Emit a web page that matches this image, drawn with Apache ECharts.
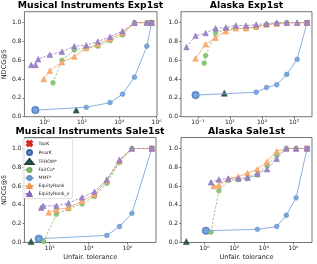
<!DOCTYPE html>
<html><head><meta charset="utf-8">
<script src="https://cdn.jsdelivr.net/npm/echarts/dist/echarts.min.js"></script>
<style>html,body{margin:0;padding:0;background:#fff}#c{width:317px;height:264px}</style>
</head><body><div id="c"></div>
<script>
// ---------- DATA (tolerance, NDCG@5) ----------
const seriesNames = ['TopK', 'PearK', 'TFROM*', 'FairCo*', 'MMF*', 'EquityRank', 'EquityRank_v'];
const panelTitles = ['Musical Instruments Exp1st', 'Alaska Exp1st', 'Musical Instruments Sale1st', 'Alaska Sale1st'];
const yTicks = [0, 0.2, 0.4, 0.6, 0.8, 1.0];
const miExpTicks = [1, 1e2, 1e4, 1e6];
const akExpTicks = [0.1, 10, 1e3, 1e5];
const miSaleTicks = [1e2, 1e4, 1e6];
const akSaleTicks = [1, 1e2, 1e4, 1e6];

// Musical Instruments Exp1st
const miExp_topK_tol = [540000];           const miExp_topK_ndcg = [1.0];
const miExp_pearK_tol = [0.32];            const miExp_pearK_ndcg = [0.07];
const miExp_tfrom_tol = [49];              const miExp_tfrom_ndcg = [0.07];
const miExp_fairco_tol = [2.8, 8.5, 39, 170, 710, 3200, 15000, 65000, 300000, 540000];
const miExp_fairco_ndcg = [0.36, 0.60, 0.71, 0.73, 0.75, 0.81, 0.87, 1.0, 1.0, 1.0];
const miExp_mmf_tol = [0.32, 170, 3200, 15000, 65000, 300000, 540000];
const miExp_mmf_ndcg = [0.07, 0.10, 0.15, 0.24, 0.42, 0.75, 1.0];
const miExp_eq_tol = [0.9, 1.9, 8.5, 39, 170, 710, 3200, 15000, 65000, 300000, 540000];
const miExp_eq_ndcg = [0.40, 0.49, 0.58, 0.64, 0.73, 0.77, 0.83, 0.89, 1.0, 1.0, 1.0];
const miExp_eqv_tol = [0.19, 0.33, 0.45, 1.9, 8.5, 39, 170, 710, 3200, 15000, 65000, 300000, 540000];
const miExp_eqv_ndcg = [0.55, 0.55, 0.61, 0.66, 0.69, 0.75, 0.76, 0.80, 0.85, 0.91, 1.0, 1.0, 1.0];

// Alaska Exp1st
const akExp_topK_tol = [650000];           const akExp_topK_ndcg = [1.0];
const akExp_pearK_tol = [0.071];           const akExp_pearK_ndcg = [0.23];
const akExp_tfrom_tol = [4.4];             const akExp_tfrom_ndcg = [0.25];
const akExp_fairco_tol = [0.245, 0.30, 1.26, 5.5, 23, 100, 430, 1900, 8300, 35000, 650000];
const akExp_fairco_ndcg = [0.57, 0.65, 0.89, 0.93, 0.94, 0.94, 0.95, 0.98, 0.99, 1.0, 1.0];
const akExp_mmf_tol = [0.071, 430, 1900, 8300, 35000, 155000, 650000];
const akExp_mmf_ndcg = [0.23, 0.26, 0.31, 0.34, 0.45, 0.61, 1.0];
const akExp_eq_tol = [0.071, 0.30, 1.26, 5.5, 23, 100, 430, 1900, 8300, 35000, 155000, 650000];
const akExp_eq_ndcg = [0.62, 0.77, 0.84, 0.91, 0.94, 0.94, 0.96, 0.98, 0.99, 1.0, 1.0, 1.0];
const akExp_eqv_tol = [0.019, 0.071, 0.30, 1.26, 5.5, 23, 100, 430, 1900, 8300, 35000, 155000, 650000];
const akExp_eqv_ndcg = [0.74, 0.86, 0.89, 0.94, 0.95, 0.97, 0.97, 0.98, 0.99, 1.0, 1.0, 1.0, 1.0];

// Musical Instruments Sale1st
const miSale_topK_tol = [1.8e7];           const miSale_topK_ndcg = [1.0];
const miSale_pearK_tol = [27.5];           const miSale_pearK_ndcg = [0.04];
const miSale_tfrom_tol = [11];             const miSale_tfrom_ndcg = [0.01];
const miSale_fairco_tol = [49, 220, 930, 4600, 20000, 87000, 390000, 1.7e6, 1.8e7];
const miSale_fairco_ndcg = [0.01, 0.30, 0.36, 0.41, 0.49, 0.63, 0.85, 1.0, 1.0];
const miSale_mmf_tol = [27.5, 87000, 390000, 1.7e6, 1.8e7];
const miSale_mmf_ndcg = [0.04, 0.075, 0.17, 0.31, 1.0];
const miSale_eq_tol = [89, 220, 930, 4600, 20000, 87000, 390000, 1.7e6, 1.8e7];
const miSale_eq_ndcg = [0.32, 0.35, 0.37, 0.44, 0.51, 0.66, 0.87, 1.0, 1.0];
const miSale_eqv_tol = [36, 46, 220, 930, 4600, 20000, 87000, 390000, 1.7e6, 1.8e7];
const miSale_eqv_ndcg = [0.37, 0.39, 0.39, 0.42, 0.48, 0.54, 0.67, 0.88, 1.0, 1.0];

// Alaska Sale1st
const akSale_topK_tol = [8.3e6];           const akSale_topK_ndcg = [1.0];
const akSale_pearK_tol = [1.23];           const akSale_pearK_ndcg = [0.125];
const akSale_tfrom_tol = [0.059];          const akSale_tfrom_ndcg = [0.01];
const akSale_fairco_tol = [2.7, 9.3, 40, 190, 790, 3700, 16600, 74000, 330000, 1.5e6, 8.3e6];
const akSale_fairco_ndcg = [0.11, 0.55, 0.66, 0.67, 0.68, 0.72, 0.82, 0.93, 1.0, 1.0, 1.0];
const akSale_mmf_tol = [1.23, 3700, 74000, 330000, 1.5e6, 8.3e6];
const akSale_mmf_ndcg = [0.125, 0.14, 0.17, 0.29, 0.475, 1.0];
const akSale_eq_tol = [4.1, 9.3, 40, 190, 790, 3700, 16600, 74000, 330000, 1.5e6, 8.3e6];
const akSale_eq_ndcg = [0.60, 0.61, 0.68, 0.70, 0.74, 0.78, 0.86, 0.97, 1.0, 1.0, 1.0];
const akSale_eqv_tol = [2.7, 9.3, 40, 190, 790, 3700, 16600, 74000, 330000, 1.5e6, 8.3e6];
const akSale_eqv_ndcg = [0.64, 0.67, 0.68, 0.68, 0.69, 0.73, 0.78, 0.89, 1.0, 1.0, 1.0];

// ---------- BUILD ----------
const pairs = (a, b) => a.map((v, i) => [v, b[i]]);
const panels = [
  {ticks: miExpTicks, d: [[miExp_topK_tol, miExp_topK_ndcg], [miExp_pearK_tol, miExp_pearK_ndcg], [miExp_tfrom_tol, miExp_tfrom_ndcg], [miExp_fairco_tol, miExp_fairco_ndcg], [miExp_mmf_tol, miExp_mmf_ndcg], [miExp_eq_tol, miExp_eq_ndcg], [miExp_eqv_tol, miExp_eqv_ndcg]]},
  {ticks: akExpTicks, d: [[akExp_topK_tol, akExp_topK_ndcg], [akExp_pearK_tol, akExp_pearK_ndcg], [akExp_tfrom_tol, akExp_tfrom_ndcg], [akExp_fairco_tol, akExp_fairco_ndcg], [akExp_mmf_tol, akExp_mmf_ndcg], [akExp_eq_tol, akExp_eq_ndcg], [akExp_eqv_tol, akExp_eqv_ndcg]]},
  {ticks: miSaleTicks, d: [[miSale_topK_tol, miSale_topK_ndcg], [miSale_pearK_tol, miSale_pearK_ndcg], [miSale_tfrom_tol, miSale_tfrom_ndcg], [miSale_fairco_tol, miSale_fairco_ndcg], [miSale_mmf_tol, miSale_mmf_ndcg], [miSale_eq_tol, miSale_eq_ndcg], [miSale_eqv_tol, miSale_eqv_ndcg]]},
  {ticks: akSaleTicks, d: [[akSale_topK_tol, akSale_topK_ndcg], [akSale_pearK_tol, akSale_pearK_ndcg], [akSale_tfrom_tol, akSale_tfrom_ndcg], [akSale_fairco_tol, akSale_fairco_ndcg], [akSale_mmf_tol, akSale_mmf_ndcg], [akSale_eq_tol, akSale_eq_ndcg], [akSale_eqv_tol, akSale_eqv_ndcg]]}
];

// layout (pixels) and log-extent per panel
const layout = [
  {left: 24, top: 11.7, width: 133, height: 105, lo: -1.08, hi: 6.02, title: 90.5, titleTop: 1},
  {left: 181, top: 11.7, width: 131, height: 105, lo: -2.06, hi: 6.12, title: 246.5, titleTop: 1},
  {left: 24, top: 137.5, width: 132, height: 105, lo: 0.70, hi: 7.47, title: 90, titleTop: 127},
  {left: 181, top: 137.5, width: 131, height: 105, lo: -1.59, hi: 7.25, title: 246.5, titleTop: 127}
];

const FONT = 'DejaVu Sans';
const XPATH = 'path://M0,2 L2,0 L5,3 L8,0 L10,2 L7,5 L10,8 L8,10 L5,7 L2,10 L0,8 L3,5 Z';
const styles = [
  {type: 'scatter', symbol: XPATH, size: 5.5, color: '#d62728', border: '#d62728'},
  {type: 'scatter', symbol: 'circle', size: 7.5, color: '#6392d2', border: '#3a67a6'},
  {type: 'scatter', symbol: 'triangle', size: 6, color: '#2e5b58', border: '#23423f'},
  {type: 'line', symbol: 'circle', size: 4.8, color: '#8cc67a', border: '#70b15e', dash: [2.5, 1.5]},
  {type: 'line', symbol: 'circle', size: 4.8, color: '#7ba7db', border: '#5e8dc8'},
  {type: 'line', symbol: 'triangle', size: 5.5, color: '#f8ad72', border: '#f1944e'},
  {type: 'line', symbol: 'triangle', size: 5.5, color: '#9f87ca', border: '#8468b9', dash: [2.5, 1.5]}
];

const SUP = {'-': '\u207B', '0': '\u2070', '1': '\u00B9', '2': '\u00B2', '3': '\u00B3', '4': '\u2074', '5': '\u2075', '6': '\u2076', '7': '\u2077', '8': '\u2078', '9': '\u2079'};
const supStr = n => String(n).split('').map(c => SUP[c]).join('');

const grid = [], xAxis = [], yAxis = [], series = [], title = [];
layout.forEach((L, i) => {
  grid.push({left: L.left, top: L.top, width: L.width, height: L.height, show: true,
    borderColor: '#3a3a3a', borderWidth: 0.7, backgroundColor: 'transparent'});
  title.push({text: panelTitles[i], left: L.title, top: L.titleTop, textAlign: 'center', padding: 0,
    textStyle: {fontSize: 9.3, fontWeight: 'bold', color: '#000', fontFamily: FONT}});
  const ticks = panels[i].ticks;
  xAxis.push({type: 'log', logBase: 10, gridIndex: i,
    min: Math.pow(10, L.lo), max: Math.pow(10, L.hi),
    axisLine: {show: false}, splitLine: {show: false}, minorTick: {show: false},
    axisTick: {show: true, customValues: ticks, length: 2, lineStyle: {color: '#333', width: 0.6}},
    axisLabel: {customValues: ticks, fontSize: 6, color: '#222', margin: 3, fontFamily: FONT,
      showMinLabel: true, showMaxLabel: true, hideOverlap: false,
      formatter: v => '10' + supStr(Math.round(Math.log10(v)))},
    name: i >= 2 ? 'Unfair. tolerance' : '', nameLocation: 'middle', nameGap: 11,
    nameTextStyle: {fontSize: 6.5, color: '#222', fontFamily: FONT}
  });
  yAxis.push({type: 'value', gridIndex: i, min: 0, max: 1.117,
    axisLine: {show: false}, splitLine: {show: false},
    axisTick: {show: true, customValues: yTicks, length: 2, lineStyle: {color: '#333', width: 0.6}},
    axisLabel: {customValues: yTicks, fontSize: 6, color: '#222', margin: 3, fontFamily: FONT,
      showMinLabel: true, showMaxLabel: true, hideOverlap: false,
      formatter: v => v.toFixed(1)},
    name: (i % 2 === 0) ? 'NDCG@5' : '', nameLocation: 'middle', nameGap: 15, nameRotate: 90,
    nameTextStyle: {fontSize: 6.5, color: '#222', fontFamily: FONT}
  });
  panels[i].d.forEach((dd, k) => {
    const s = styles[k];
    const base = {name: seriesNames[k], type: s.type, xAxisIndex: i, yAxisIndex: i,
      data: pairs(dd[0], dd[1]), symbol: s.symbol, symbolSize: s.size, z: 2 + k,
      itemStyle: {color: s.color, borderColor: s.border, borderWidth: 0.5, opacity: 1},
      emphasis: {disabled: true}, silent: true, animation: false};
    if (s.type === 'line') {
      base.showSymbol = true;
      base.showAllSymbol = true;
      base.lineStyle = {color: s.color, width: 0.9, type: s.dash || 'solid'};
    }
    series.push(base);
  });
});

const chart = echarts.init(document.getElementById('c'), null, {renderer: 'canvas'});
chart.setOption({
  animation: false,
  backgroundColor: '#fff',
  textStyle: {fontFamily: FONT},
  title: title,
  grid: grid, xAxis: xAxis, yAxis: yAxis,
  legend: {data: seriesNames, orient: 'vertical', left: 23, top: 138.5,
    itemWidth: 8, itemHeight: 5, itemGap: 2, padding: [1.5, 3, 1.5, 1.5],
    backgroundColor: 'rgba(255,255,255,0.85)', borderColor: '#cfcfcf', borderWidth: 0.6, borderRadius: 2,
    selectedMode: false,
    textStyle: {fontSize: 4.6, lineHeight: 5, color: '#222', fontFamily: FONT}},
  series: series
});
</script></body></html>
